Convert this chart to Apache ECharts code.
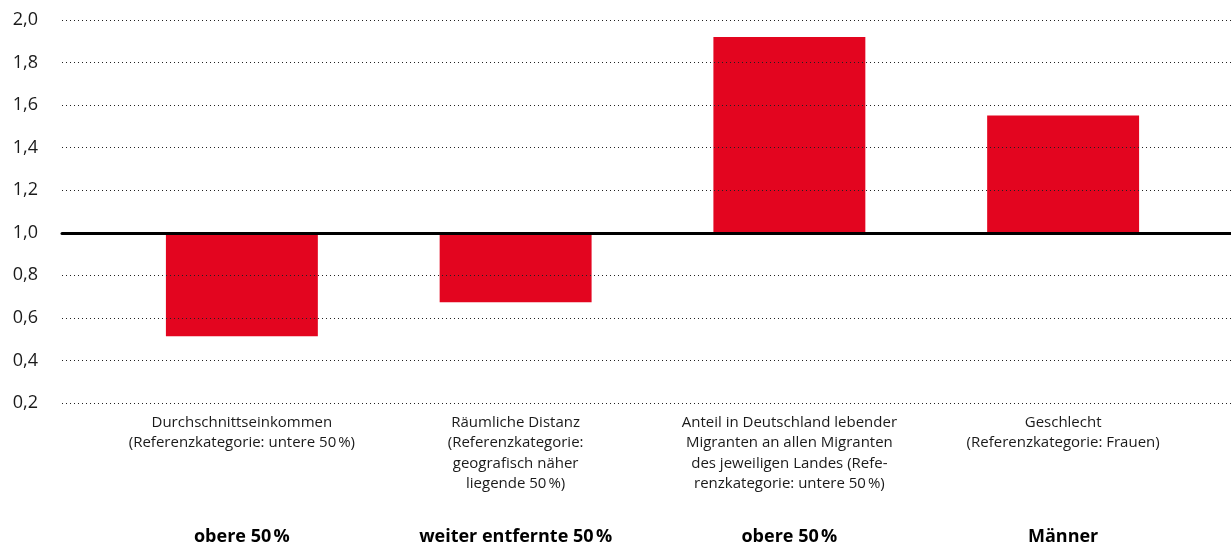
<!DOCTYPE html>
<html>
<head>
<meta charset="utf-8">
<script src="https://cdn.jsdelivr.net/npm/echarts@6/dist/echarts.min.js"></script>
<style>
html, body { margin: 0; padding: 0; background: #fff; }
#main { width: 1231px; height: 546px; }
</style>
</head>
<body>
<div id="main"></div>
<script>
//////////// daten //////////////////
var categories = [
    'Durchschnittseinkommen\n(Referenzkategorie: untere 50\u202f%)',
    'Räumliche Distanz\n(Referenzkategorie:\ngeografisch näher\nliegende 50\u202f%)',
    'Anteil in Deutschland lebender\nMigranten an allen Migranten\ndes jeweiligen Landes (Refe-\nrenzkategorie: untere 50\u202f%)',
    'Geschlecht\n(Referenzkategorie: Frauen)'
];
var groupLabels = ['obere 50\u202f%', 'weiter entfernte 50\u202f%', 'obere 50\u202f%', 'Männer'];
var values = [0.51, 0.67, 1.92, 1.55];
var baseline = 1.0;
var yMin = 0.2, yMax = 2.0, yStep = 0.2;

// balken starten bei 1,0 -> achse um baseline verschoben
var barData = values.map(function (v) { return +(v - baseline).toFixed(3); });
function fmt(v) { return (v + baseline).toFixed(1).replace('.', ','); }

var dom = document.getElementById('main');
var chart = echarts.init(dom, null, { renderer: 'canvas' });
var option = {
    backgroundColor: '#FFFFFF',
    animation: false,
    textStyle: { fontFamily: 'Open Sans' },
    grid: [
        { left: 105, right: 31, top: 20, bottom: 143 },   // balken
        { left: 62, right: 0, top: 20, bottom: 143 }      // raster + beschriftung
    ],
    xAxis: [
        {
            gridIndex: 0,
            type: 'category',
            data: categories,
            axisLine: { show: false },
            axisTick: { show: false },
            axisLabel: {
                interval: 0,
                margin: 10,
                color: '#1a1a1a',
                fontSize: 15,
                lineHeight: 20.5,
                fontFamily: 'Open Sans'
            }
        },
        {
            gridIndex: 0,
            type: 'category',
            position: 'bottom',
            offset: 118,
            data: groupLabels,
            axisLine: { show: false },
            axisTick: { show: false },
            axisLabel: {
                interval: 0,
                margin: 8,
                color: '#000',
                fontSize: 18,
                fontWeight: 'bold',
                fontFamily: 'Open Sans'
            }
        },
        {
            gridIndex: 1,
            type: 'value',
            min: 0,
            max: 1,
            z: 5,
            axisLine: { show: true, onZero: true, lineStyle: { color: '#000', width: 3 } },
            axisTick: { show: false },
            axisLabel: { show: false },
            splitLine: { show: false }
        }
    ],
    yAxis: [
        {
            gridIndex: 0,
            type: 'value',
            min: yMin - baseline,
            max: yMax - baseline,
            interval: yStep,
            show: false
        },
        {
            gridIndex: 1,
            type: 'value',
            min: yMin - baseline,
            max: yMax - baseline,
            interval: yStep,
            z: 4,
            axisLine: { show: false },
            axisTick: { show: false },
            axisLabel: {
                margin: 24,
                color: '#1a1a1a',
                fontSize: 18,
                fontFamily: 'Open Sans',
                formatter: fmt
            },
            splitLine: {
                show: true,
                lineStyle: { color: '#222', width: 1, type: [1, 3] }
            }
        }
    ],
    series: [{
        name: 'Odds Ratio',
        type: 'bar',
        xAxisIndex: 0,
        yAxisIndex: 0,
        barWidth: '55.5%',
        data: barData,
        itemStyle: { color: '#E3051F' },
        z: 2
    }]
};
chart.setOption(option);
</script>
</body>
</html>
